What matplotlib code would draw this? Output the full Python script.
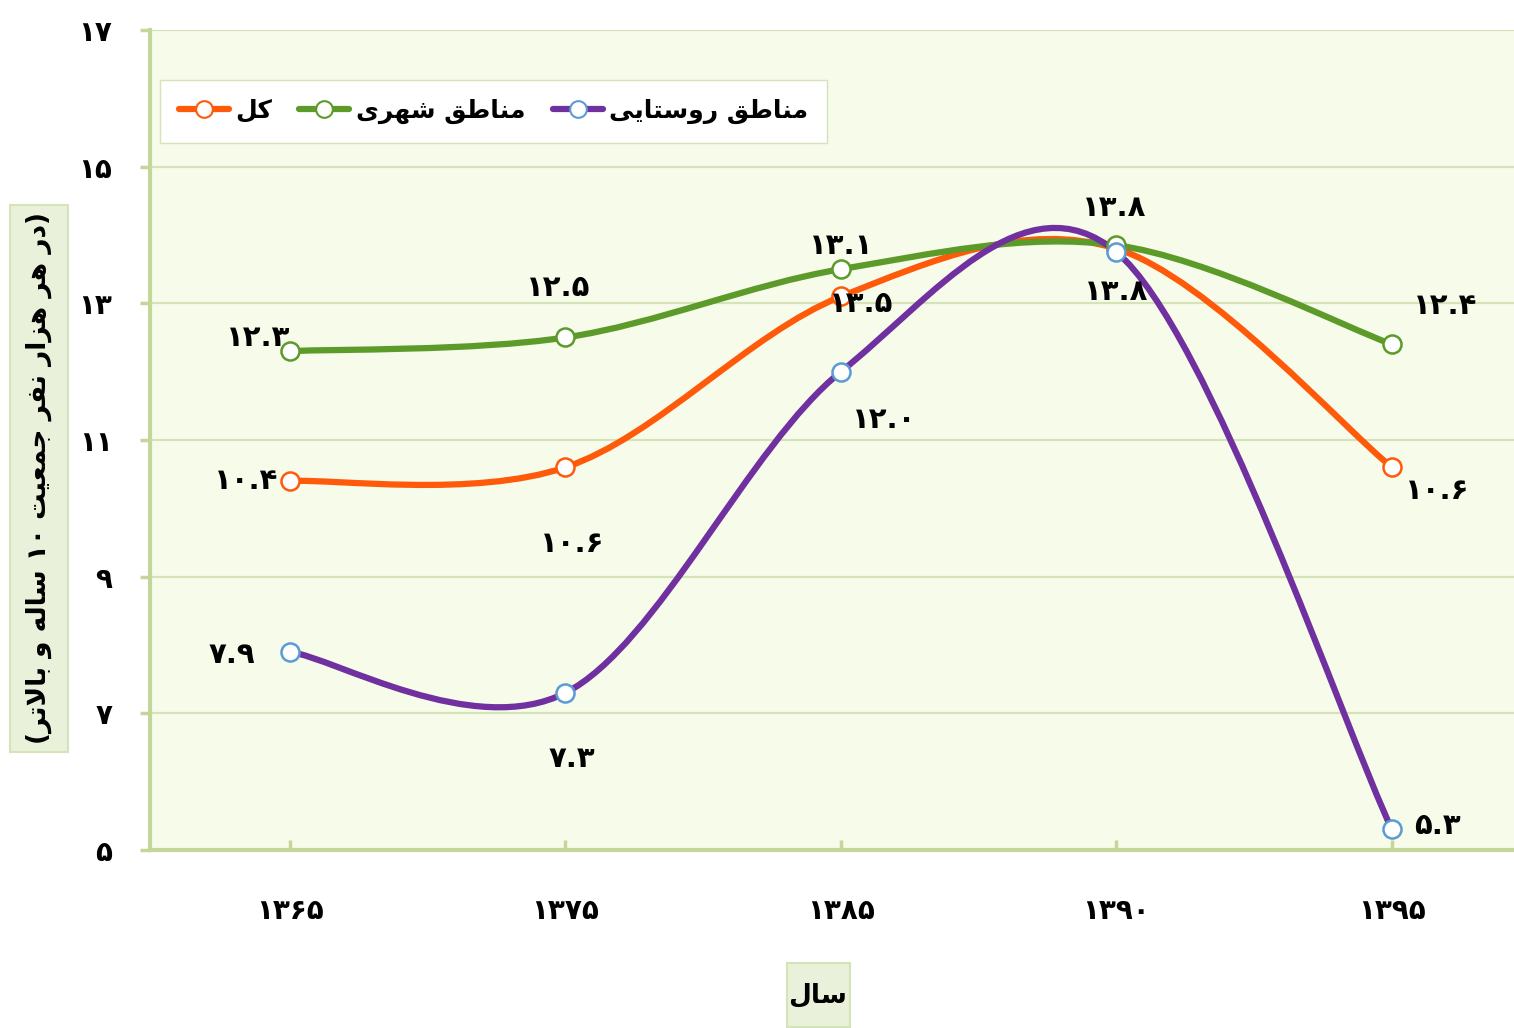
import re
import numpy as np
import matplotlib
matplotlib.use('Agg')
import matplotlib.pyplot as plt
from matplotlib.path import Path
from matplotlib.patches import PathPatch, Rectangle
from matplotlib.lines import Line2D

# data
years = ['1365', '1375', '1385', '1390', '1395']
total = [10.4, 10.6, 13.1, 13.8, 10.6]
urban = [12.3, 12.5, 13.5, 13.85, 12.4]
rural = [7.9, 7.3, 12.0, 13.75, 5.3]
# data labels as printed on the chart
total_labels = ['10.4', '10.6', '13.5', '13.8', '10.6']
urban_labels = ['12.3', '12.5', '13.1', '13.8', '12.4']
rural_labels = ['7.9', '7.3', '12.0', '', '5.3']
series_names = ['کل', 'مناطق شهری', 'مناطق روستایی']
y_title = '(در هر هزار نفر جمعیت ۱۰ ساله و بالاتر)'
x_title = 'سال'
yticks = [5, 7, 9, 11, 13, 15, 17]

# label offsets in pixels (dx, dy) from each point
total_off = [(-44, 0), (7, -77), (20, -7), (0, -43), (45, -24)]
urban_off = [(-32, 13), (-7, 49), (0, 23), (-2, 37), (53, 38)]
rural_off = [(-58, -3), (6, -66), (43, -48), (0, 0), (45, 3)]

# ---- small persian shaper (matplotlib has no arabic shaping) ----
FORMS = {
    '\u0627': ('\ufe8d', '\ufe8e', None, None),
    '\u0628': ('\ufe8f', '\ufe90', '\ufe91', '\ufe92'),
    '\u062a': ('\ufe95', '\ufe96', '\ufe97', '\ufe98'),
    '\u062c': ('\ufe9d', '\ufe9e', '\ufe9f', '\ufea0'),
    '\u062f': ('\ufea9', '\ufeaa', None, None),
    '\u0631': ('\ufead', '\ufeae', None, None),
    '\u0632': ('\ufeaf', '\ufeb0', None, None),
    '\u0633': ('\ufeb1', '\ufeb2', '\ufeb3', '\ufeb4'),
    '\u0634': ('\ufeb5', '\ufeb6', '\ufeb7', '\ufeb8'),
    '\u0637': ('\ufec1', '\ufec2', '\ufec3', '\ufec4'),
    '\u0639': ('\ufec9', '\ufeca', '\ufecb', '\ufecc'),
    '\u0641': ('\ufed1', '\ufed2', '\ufed3', '\ufed4'),
    '\u0642': ('\ufed5', '\ufed6', '\ufed7', '\ufed8'),
    '\u06a9': ('\ufb8e', '\ufb8f', '\ufb90', '\ufb91'),
    '\u0644': ('\ufedd', '\ufede', '\ufedf', '\ufee0'),
    '\u0645': ('\ufee1', '\ufee2', '\ufee3', '\ufee4'),
    '\u0646': ('\ufee5', '\ufee6', '\ufee7', '\ufee8'),
    '\u0647': ('\ufee9', '\ufeea', '\ufeeb', '\ufeec'),
    '\u0648': ('\ufeed', '\ufeee', None, None),
    '\u06cc': ('\ufbfc', '\ufbfd', '\ufbfe', '\ufbff'),
}


def joins_fwd(c):
    return c in FORMS and FORMS[c][2] is not None


def fa(text):
    text = text.replace('\u064a', '\u06cc').replace('\u0643', '\u06a9')
    chars = list(text)
    out = []
    i = 0
    while i < len(chars):
        c = chars[i]
        if c not in FORMS:
            out.append(c)
            i += 1
            continue
        prev = chars[i - 1] if i > 0 else ''
        link_prev = joins_fwd(prev)
        if c == '\u0644' and i + 1 < len(chars) and chars[i + 1] == '\u0627':
            out.append('\ufefc' if link_prev else '\ufefb')
            i += 2
            continue
        nxt = chars[i + 1] if i + 1 < len(chars) else ''
        link_next = joins_fwd(c) and nxt in FORMS
        iso, fin, ini, med = FORMS[c]
        if link_prev and link_next:
            out.append(med)
        elif link_prev:
            out.append(fin)
        elif link_next:
            out.append(ini)
        else:
            out.append(iso)
        i += 1
    s = ''.join(out)
    parts = re.findall(r'[0-9\u06f0-\u06f9.]+|[^0-9\u06f0-\u06f9.]', s)
    mirror = {'(': ')', ')': '('}
    return ''.join(mirror.get(p, p) for p in parts[::-1])


DIG = str.maketrans('0123456789', '۰۱۲۳۴۵۶۷۸۹')


def fnum(s):
    return str(s).translate(DIG)


def smooth_path(vals):
    pts = np.column_stack([np.arange(len(vals), dtype=float), vals])
    n = len(pts)
    verts = [pts[0]]
    codes = [Path.MOVETO]
    for i in range(n - 1):
        p0 = pts[i - 1] if i > 0 else pts[i]
        p1, p2 = pts[i], pts[i + 1]
        p3 = pts[i + 2] if i + 2 < n else pts[i + 1]
        verts += [p1 + (p2 - p0) / 6, p2 - (p3 - p1) / 6, p2]
        codes += [Path.CURVE4] * 3
    return Path(verts, codes)


plt.rcParams['font.family'] = ['DejaVu Sans']
plt.rcParams['font.weight'] = 'bold'

W, H = 1514, 1028
fig = plt.figure(figsize=(W / 100, H / 100), dpi=100)
ax = fig.add_axes([150 / W, 1 - 850 / H, 1 - 150 / W, 820 / H])
ax.set_facecolor('#f6fbea')

spine_c = '#c4d79b'
grid_c = '#d5e3b9'

colors = ['#ff5a0a', '#5c9a2a', '#7030a0']
edge = ['#ff5a0a', '#5c9a2a', '#5b9bd5']
all_vals = [total, urban, rural]
all_labels = [total_labels, urban_labels, rural_labels]
all_off = [total_off, urban_off, rural_off]

handles = []
for k in range(3):
    vals = all_vals[k]
    ax.add_patch(PathPatch(smooth_path(vals), fill=False, ec=colors[k],
                           lw=4.5, zorder=3 + k, capstyle='round'))
    ax.plot(range(len(vals)), vals, 'o', ls='none', ms=13, mfc='white',
            mec=edge[k], mew=1.8, zorder=6 + k)
    for i, v in enumerate(vals):
        if all_labels[k][i]:
            ax.annotate(fnum(all_labels[k][i]), (i, v),
                        xytext=all_off[k][i], textcoords='offset pixels',
                        ha='center', va='center', fontsize=21,
                        fontweight='bold', zorder=10)
    handles.append(Line2D([], [], color=colors[k], lw=4.5, marker='o', ms=12,
                          mfc='white', mec=edge[k], mew=1.5,
                          solid_capstyle='round'))

ax.set_xlim(-0.508, 4.443)
ax.set_ylim(5, 17)
ax.set_yticks(yticks)
ax.set_yticklabels([fnum(t) for t in yticks], fontsize=20, fontweight='bold')
ax.set_xticks(range(len(years)))
ax.set_xticklabels([fnum(y) for y in years], fontsize=20, fontweight='bold')
ax.tick_params(axis='y', direction='out', length=7, width=2.5,
               color=spine_c, pad=20)
ax.tick_params(axis='x', direction='in', length=7, width=2.5,
               color=spine_c, pad=34)
for s in ['top', 'right']:
    ax.spines[s].set_visible(False)
for s in ['left', 'bottom']:
    ax.spines[s].set_color(spine_c)
    ax.spines[s].set_linewidth(3)
ax.grid(axis='y', color=grid_c, lw=1.5)
ax.set_axisbelow(True)

leg = ax.legend(handles, [fa(n) for n in series_names], ncol=3,
                loc='upper left', bbox_to_anchor=(10 / 1364, 770 / 820),
                borderaxespad=0, fancybox=False, framealpha=1,
                edgecolor='#d5e3b9', facecolor='white',
                prop={'size': 18, 'weight': 'bold'}, handlelength=2.0,
                handletextpad=0.25, columnspacing=1.1, borderpad=0.75)
leg.set_zorder(20)

# title boxes
fig.add_artist(Rectangle((10 / W, 1 - 752 / H), 58 / W, 547 / H,
                         transform=fig.transFigure, fc='#e9f1da',
                         ec='#d5e3b9', lw=1.5))
fig.add_artist(Rectangle((787 / W, 1 - 1027 / H), 63 / W, 64 / H,
                         transform=fig.transFigure, fc='#e9f1da',
                         ec='#d5e3b9', lw=1.5))
fig.text(39 / W, 1 - 478 / H, fa(y_title), rotation=90, ha='center',
         va='center', fontsize=19, fontweight='bold')
fig.text(818 / W, 1 - 995 / H, fa(x_title), ha='center', va='center',
         fontsize=19, fontweight='bold')

fig.savefig('out.png', dpi=100)
